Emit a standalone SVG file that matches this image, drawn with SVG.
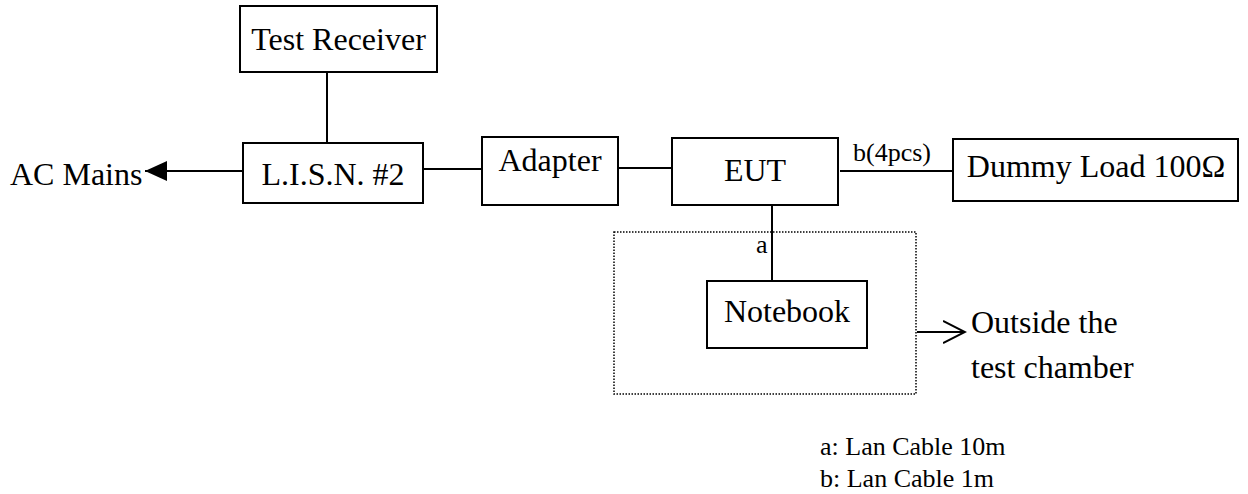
<svg xmlns="http://www.w3.org/2000/svg" width="1248" height="494" viewBox="0 0 1248 494">
<style>
.box{fill:#fff;stroke:#000;stroke-width:2}
.t{font-family:"Liberation Serif","Times New Roman",serif;font-size:32px;fill:#000}
.s{font-family:"Liberation Serif","Times New Roman",serif;font-size:26px;fill:#000}
.ln{stroke:#000;stroke-width:2;fill:none}
</style>
<defs>
<marker id="fill" viewBox="0 0 22 20" refX="22" refY="10" markerWidth="22" markerHeight="20" markerUnits="userSpaceOnUse" orient="auto">
<path d="M0,0 L22,10 L0,20 Z" fill="#000"/>
</marker>
<marker id="open" viewBox="0 0 24 24" refX="22" refY="12" markerWidth="24" markerHeight="24" markerUnits="userSpaceOnUse" orient="auto">
<path d="M0,1 L22,12 L0,23" fill="none" stroke="#000" stroke-width="2"/>
</marker>
</defs>
<g id="connectors">
<line class="ln" x1="327" y1="72" x2="327" y2="143"/>
<line class="ln" x1="243" y1="171" x2="145" y2="171" marker-end="url(#fill)"/>
<line class="ln" x1="423" y1="169" x2="482" y2="169"/>
<line class="ln" x1="618" y1="168" x2="672" y2="168"/>
<line class="ln" x1="840" y1="171" x2="953" y2="171"/>
<text class="s" x="853" y="161">b(4pcs)</text>
<line class="ln" x1="772" y1="205" x2="772" y2="281"/>
<text class="s" x="756" y="253">a</text>
<line class="ln" x1="917" y1="332" x2="965" y2="332" marker-end="url(#open)"/>
</g>
<g id="test-receiver">
<rect class="box" x="240" y="6" width="197" height="66"/>
<text class="t" x="338.5" y="50" text-anchor="middle">Test Receiver</text>
</g>
<g id="ac-mains">
<text class="t" x="10" y="185">AC Mains</text>
</g>
<g id="lisn">
<rect class="box" x="243" y="143" width="180" height="60"/>
<text class="t" x="333" y="185" text-anchor="middle">L.I.S.N. #2</text>
</g>
<g id="adapter">
<rect class="box" x="482" y="137" width="136" height="68"/>
<text class="t" x="550" y="171" text-anchor="middle">Adapter</text>
</g>
<g id="eut">
<rect class="box" x="672" y="138" width="166" height="67"/>
<text class="t" x="755" y="181" text-anchor="middle">EUT</text>
</g>
<g id="dummy-load">
<rect class="box" x="953" y="139" width="285" height="62"/>
<text class="t" x="1096" y="177" text-anchor="middle">Dummy Load 100Ω</text>
</g>
<g id="outside-area">
<rect x="614" y="232" width="302" height="162" fill="none" stroke="#000" stroke-width="1.5" stroke-dasharray="1.5,1.5"/>
</g>
<g id="notebook">
<rect class="box" x="707" y="281" width="160" height="67"/>
<text class="t" x="787" y="322" text-anchor="middle">Notebook</text>
</g>
<g id="outside-label">
<text class="t" x="971" y="333">Outside the</text>
<text class="t" x="971" y="378">test chamber</text>
</g>
<g id="legend">
<text class="s" x="820" y="455">a: Lan Cable 10m</text>
<text class="s" x="820" y="487">b: Lan Cable 1m</text>
</g>
</svg>
